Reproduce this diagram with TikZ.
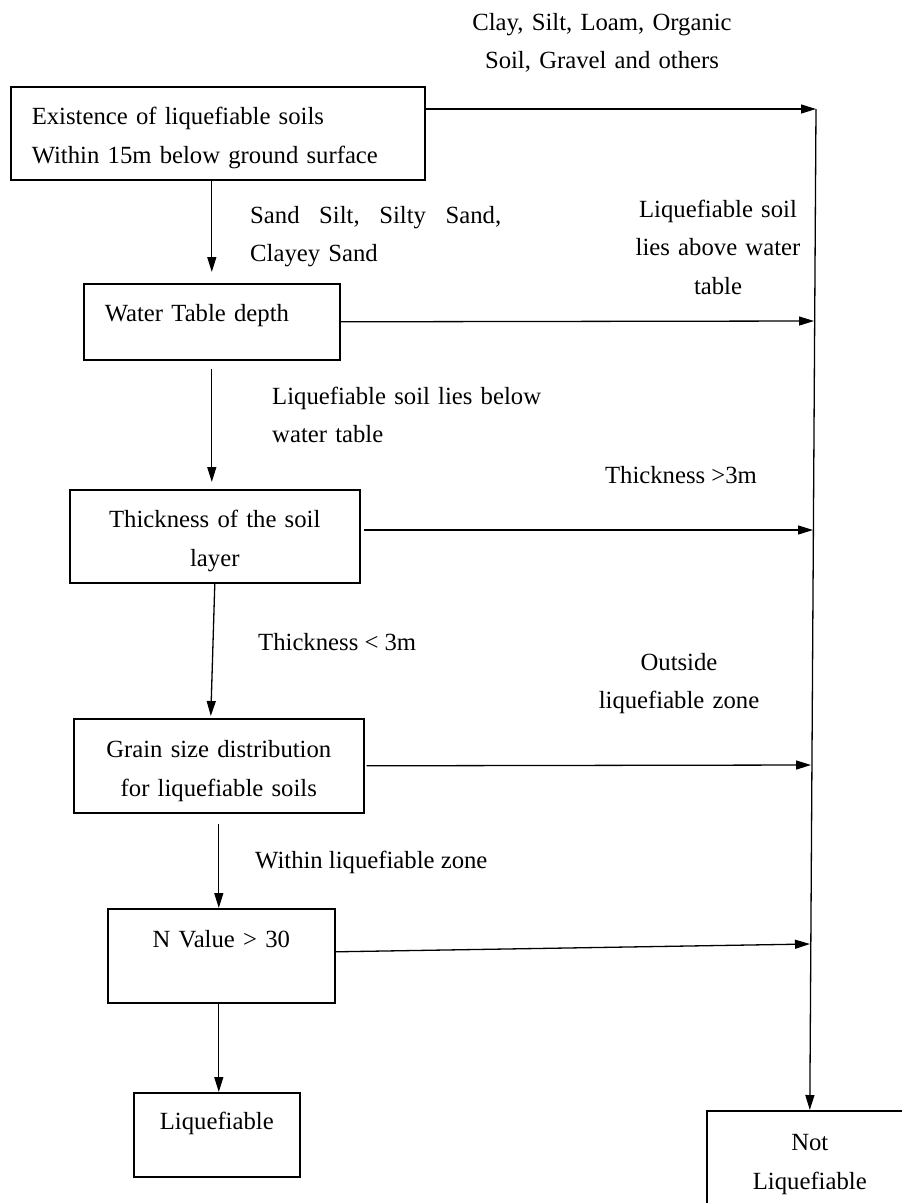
\documentclass[tikz,border=0pt]{standalone}
\usepackage{fontspec}
\setmainfont{Liberation Serif}
\usetikzlibrary{arrows.meta,calc}

\begin{document}
\begin{tikzpicture}[x=1pt,y=-1pt,
        every node/.style={font=\fontsize{24.7}{38.8}\selectfont,inner sep=0pt},
        box/.style={draw,line width=1.6pt,inner ysep=0pt,anchor=north west},
        flow/.style={line width=1.3pt,-{Triangle[length=15pt,width=9pt]}}]
    \clip (0,0) rectangle (902,1203); % page frame
    % decision boxes (text height = first baseline below the top edge)
    \node [box,text width=372pt,inner xsep=21pt,align=left,text height=38pt,text depth=55pt] (exist) at (10,86) {Existence of liquefiable soils\\Within 15m below ground surface};
    \node [box,text width=214pt,inner xsep=21pt,align=left,text height=38pt,text depth=38pt] (water) at (83,283) {Water Table depth};
    \node [box,text width=270pt,inner xsep=10pt,align=center,text height=38pt,text depth=55pt] (thick) at (69,489) {Thickness of the soil\\layer};
    \node [box,text width=270pt,inner xsep=10pt,align=center,text height=39pt,text depth=55pt] (grain) at (73,718) {Grain size distribution\\for liquefiable soils};
    \node [box,text width=207pt,inner xsep=10pt,align=center,text height=39pt,text depth=55pt] (nval) at (107,908) {N Value > 30};
    \node [box,text width=146pt,inner xsep=10pt,align=center,text height=37pt,text depth=47pt] (liq) at (133,1092) {Liquefiable};
    \node [box,text width=186pt,inner xsep=10pt,align=center,text height=40pt,text depth=75pt] (notliq) at (706,1110) {Not\\Liquefiable};
    % branch labels
    \node [anchor=base,text width=300pt,align=center] (claylbl) at (602,30) {Clay, Silt, Loam, Organic\\Soil, Gravel and others};
    \node [anchor=base west,text width=251pt,align=left] (sandlbl) at (250,223) {Sand\hfill Silt,\hfill Silty\hfill Sand,\\Clayey Sand};
    \node [anchor=base,text width=200pt,align=center] (abovelbl) at (718,217) {Liquefiable soil\\lies above water\\table};
    \node [anchor=base west,text width=300pt,align=left] (belowlbl) at (272,404) {Liquefiable soil lies below\\water table};
    \node [anchor=base] (gtlbl) at (681,483) {Thickness >3m};
    \node [anchor=base west] (ltlbl) at (258,650) {Thickness < 3m};
    \node [anchor=base,text width=220pt,align=center] (outlbl) at (679,670) {Outside\\liquefiable zone};
    \node [anchor=base west] (inlbl) at (255,868) {Within liquefiable zone};
    % junctions on the right-hand trunk
    \coordinate (j1) at (816,109);
    \coordinate (j2) at (814,321);
    \coordinate (j3) at (813,530);
    \coordinate (j4) at (811,765);
    \coordinate (j5) at (810,944);
    \draw [flow] (j1) -- (notliq.north); % trunk to "not liquefiable"
    \draw [flow] (exist.east |- j1) -- (j1);
    \draw [flow] (water.east) -- (j2);
    \draw [flow] ([xshift=3pt]thick.east |- j3) -- (j3);
    \draw [flow] ([xshift=2pt]grain.east) -- (j4);
    \draw [flow] ([yshift=4pt]nval.east) -- (j5);
    % main chain
    \draw [flow] (water.north |- exist.south) -- ($(water.north)+(0,-11)$);
    \draw [flow] ($(water.south)+(0,8)$) -- ($(water.south |- thick.north)+(0,-7)$);
    \draw [flow] (thick.south) -- ($(grain.north)+(-8,-2)$);
    \draw [flow] ($(grain.south)+(0,10)$) -- (grain.south |- nval.north);
    \draw [flow] (grain.south |- nval.south) -- (grain.south |- liq.north);
\end{tikzpicture}
\end{document}
